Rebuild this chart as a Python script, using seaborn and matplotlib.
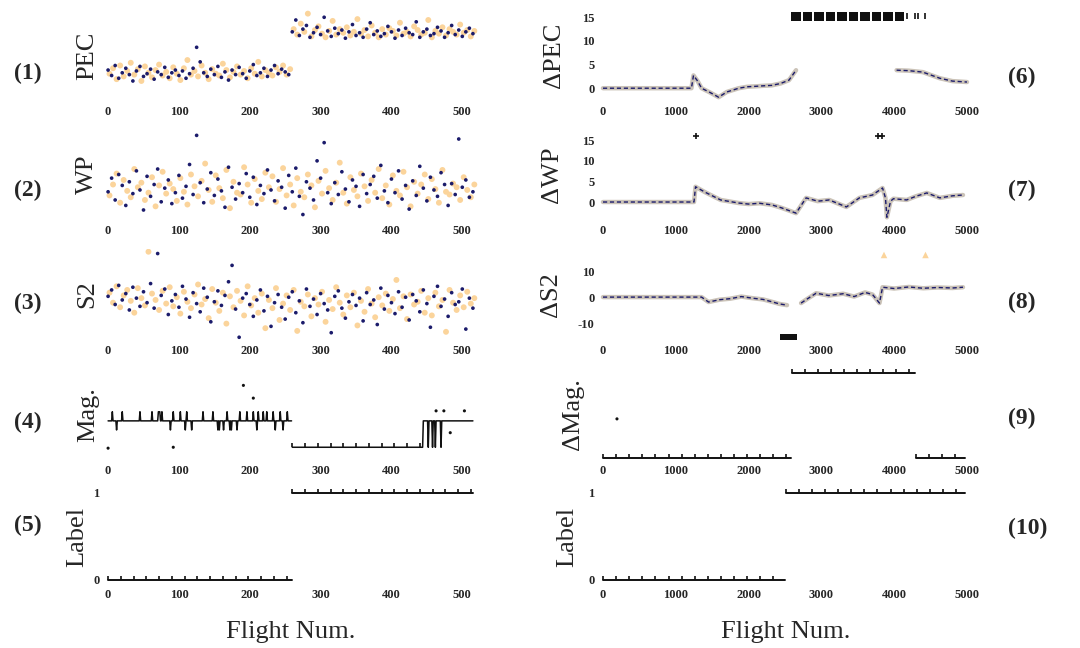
import numpy as np
import pandas as pd
import seaborn as sns
import matplotlib.pyplot as plt

sns.set_theme(style="white")
plt.rcParams['font.family'] = ['Liberation Serif', 'DejaVu Serif']

NAVY = '#1b1b6b'
PEACH = '#fbd49b'
GRAY = '#cbc3b8'
BLACK = '#111111'

# ---------------- data: left column (flight index 0..515) ----------------
left_ticks = [0, 100, 200, 300, 400, 500]
right_ticks = [0, 1000, 2000, 3000, 4000, 5000]

# (1) PEC, sampled every 5 flights
pec_navy = [3.4, 2.8, 3.9, 2.5, 3.1, 3.6, 2.9, 2.2, 3.3, 3.8, 2.7, 3.0, 3.5, 2.4, 3.2, 2.9, 3.7, 2.6, 3.1, 3.4,
            2.8, 3.3, 2.5, 3.0, 3.6, 5.9, 4.3, 3.1, 2.7, 3.5, 2.9, 3.8, 2.6, 3.2, 2.3, 3.4, 2.9, 3.7, 3.0, 2.5,
            3.3, 4.0, 2.8, 3.1, 3.6, 2.7, 3.4, 3.9, 3.0, 3.5, 3.2, 2.9,
            7.6, 8.9, 7.2, 7.9, 8.3, 7.0, 7.5, 8.1, 7.3, 9.2, 7.7, 7.1, 8.0, 7.4, 7.8, 6.9, 7.6, 8.4, 7.2, 7.5,
            7.0, 7.9, 8.6, 7.3, 7.7, 7.1, 7.4, 8.2, 7.6, 6.9, 7.8, 7.2, 8.0, 7.5, 7.3, 8.7, 7.0, 7.6, 7.9, 7.2,
            7.4, 8.1, 7.7, 7.0, 7.5, 8.3, 7.3, 7.8, 7.1, 7.6, 8.0, 7.4]
pec_peach = [3.0, 3.6, 2.4, 3.9, 2.7, 3.3, 4.2, 2.9, 3.5, 2.2, 3.8, 3.1, 2.6, 3.4, 4.0, 2.8, 3.2, 2.5, 3.7, 3.0,
             2.3, 3.6, 4.5, 2.9, 3.3, 2.7, 3.9, 3.1, 2.4, 3.5, 3.0, 2.8, 4.1, 3.4, 2.6, 3.2, 3.8, 2.9, 3.3, 2.5,
             3.6, 3.0, 4.3, 2.7, 3.4, 3.1, 2.8, 3.7, 3.2, 3.9, 2.9, 3.5,
             7.9, 7.3, 8.5, 7.6, 9.6, 7.1, 7.8, 8.2, 7.4, 7.0, 7.7, 8.8, 7.3, 7.9, 7.5, 8.1, 7.2, 7.6, 9.0, 7.4,
             7.8, 7.1, 8.3, 7.5, 7.0, 7.9, 7.3, 8.0, 7.7, 7.2, 8.6, 7.4, 7.6, 7.1, 8.2, 7.8, 7.3, 7.5, 8.9, 7.0,
             7.7, 7.4, 8.1, 7.2, 7.9, 7.6, 7.3, 8.4, 7.5, 7.8, 7.1, 7.7]

# (2) WP
wp_navy = [3.1, 4.6, 2.2, 5.0, 3.8, 1.6, 4.2, 2.9, 5.4, 3.3, 1.1, 4.8, 2.6, 3.9, 5.6, 2.0, 3.5, 4.4, 1.8, 3.0,
           4.9, 2.4, 3.7, 6.1, 2.8, 9.3, 4.1, 1.9, 3.4, 5.2, 2.7, 4.5, 3.2, 1.4, 5.8, 3.6, 2.3, 4.0, 3.0, 5.1,
           2.5, 4.7, 1.7, 3.8, 2.9, 5.5, 3.3, 2.1, 4.3, 3.6, 1.3, 4.9, 3.1, 5.7, 2.6, 0.6, 4.2, 3.5, 2.2, 6.5,
           4.6, 8.5, 3.0, 1.8, 4.1, 2.8, 5.3, 3.4, 2.0, 4.4, 3.7, 1.5, 5.0, 2.9, 3.9, 4.8, 2.4, 6.0, 3.2, 1.9,
           4.5, 3.0, 5.4, 2.3, 3.8, 1.2, 4.3, 2.7, 5.9, 3.5, 2.1, 4.7, 3.3, 2.6, 5.2, 3.9, 1.6, 4.0, 2.8, 8.9,
           3.6, 4.4, 2.5, 3.1]
wp_peach = [2.7, 3.9, 5.1, 1.9, 4.4, 3.2, 2.5, 5.6, 3.6, 4.1, 2.2, 3.0, 4.7, 1.5, 3.8, 5.3, 2.9, 4.0, 3.4, 2.1,
            4.6, 3.1, 1.7, 5.0, 3.7, 2.6, 4.3, 6.2, 3.3, 2.0, 4.9, 3.5, 2.4, 5.5, 1.3, 4.2, 3.0, 2.8, 5.8, 3.9,
            1.9, 4.5, 3.2, 2.3, 5.2, 3.6, 4.8, 2.0, 3.4, 5.7, 2.7, 3.9, 1.6, 4.6, 3.1, 2.5, 5.0, 3.8, 1.4, 4.3,
            2.9, 5.4, 3.5, 2.2, 4.1, 6.3, 3.0, 1.8, 4.7, 3.3, 2.6, 5.1, 3.7, 2.1, 4.4, 3.0, 5.6, 2.4, 3.8, 1.7,
            4.9, 3.2, 2.7, 5.3, 3.6, 1.5, 4.2, 2.9, 3.9, 5.0, 2.3, 4.5, 3.4, 1.9, 5.5, 3.1, 2.8, 4.0, 3.6, 2.2,
            4.7, 3.3, 2.5, 3.9]

# (3) S2
s2_navy = [4.8, 5.5, 3.9, 6.0, 4.4, 5.1, 3.3, 5.8, 4.6, 3.7, 5.3, 4.1, 6.2, 3.5, 9.5, 4.9, 5.6, 2.8, 4.3, 5.0,
           3.6, 5.9, 4.5, 2.5, 5.2, 4.0, 3.1, 5.7, 4.7, 2.0, 4.2, 5.4, 3.8, 4.9, 6.4, 8.2, 3.4, 0.3, 4.6, 5.1,
           3.9, 2.6, 4.4, 5.5, 3.2, 4.8, 1.5, 4.1, 5.0, 3.6, 2.3, 4.7, 5.3, 3.0, 4.3, 1.9, 5.6, 3.7, 4.5, 2.8,
           5.1, 4.0, 3.3, 0.8, 4.8, 5.4, 3.5, 2.4, 4.2, 5.0, 3.8, 4.6, 2.1, 5.2, 3.9, 4.4, 1.7, 5.7, 3.4, 4.9,
           4.1, 2.9, 5.3, 3.6, 4.7, 2.2, 5.0, 4.3, 3.1, 5.5, 4.0, 1.4, 4.8, 5.9, 3.7, 4.5, 2.6, 5.2, 3.9, 4.2,
           5.6, 1.2, 4.6, 3.5]
s2_peach = [5.2, 4.1, 5.9, 3.6, 4.9, 5.5, 4.3, 3.0, 5.7, 4.6, 3.8, 9.7, 5.1, 4.4, 3.3, 5.4, 4.0, 5.8, 3.7, 4.7,
            2.9, 5.3, 4.2, 3.5, 5.0, 6.1, 3.9, 4.5, 2.4, 5.6, 4.1, 3.2, 5.2, 1.8, 4.8, 3.6, 5.4, 4.3, 2.7, 5.9,
            3.8, 4.6, 3.0, 5.1, 1.3, 4.4, 3.5, 5.7, 2.2, 4.0, 4.9, 3.3, 5.5, 1.0, 4.2, 3.7, 5.0, 2.6, 4.6, 3.9,
            5.3, 2.0, 4.4, 3.4, 5.8, 4.1, 2.8, 4.9, 3.6, 5.2, 1.6, 4.3, 3.1, 5.6, 4.0, 2.5, 4.7, 3.8, 5.1, 3.2,
            4.5, 6.6, 3.5, 4.8, 2.3, 5.0, 3.9, 4.2, 5.4, 3.0, 4.6, 2.7, 5.2, 3.7, 4.4, 0.9, 5.5, 4.1, 3.3, 4.9,
            3.6, 5.3, 4.0, 4.6]

# (4) Mag.: base levels between change points, plus one-flight spikes
n_left = 516
mag_change_x = [0, 260, 445]
mag_change_y = [4.3, 1.4, 4.3]
mag_break = 260
mag_up_x = [6, 20, 45, 62, 71, 72, 73, 76, 92, 102, 111, 134, 148, 168, 186, 196, 205, 212, 219, 224, 233, 243, 253]
mag_up_y = 5.3
mag_down_x = [12, 88, 109, 118, 155, 157, 163, 172, 174, 182, 210, 236, 247]
mag_down_y = 3.3
mag_drop_x = [452, 458, 462, 470]
mag_dot_x = [0, 92, 191, 205, 463, 474, 503, 483]
mag_dot_y = [1.3, 1.4, 8.2, 6.8, 5.4, 5.4, 5.4, 3.0]

# (5) Label
label_left_switch = 260

# ---------------- data: right column ----------------
# (6) dPEC
dpec_x = [0, 300, 600, 900, 1215, 1243, 1300, 1354, 1470, 1588, 1700, 1865, 1980, 2099, 2200, 2320, 2440, 2555, 2652,
          4033, 4200, 4392, 4500, 4627, 4800, 5000]
dpec_y = [0, 0, 0, 0, 0, 2.7, 1.5, 0.0, -0.9, -1.9, -0.8, 0.0, 0.3, 0.4, 0.5, 0.6, 1.0, 1.7, 3.8,
          3.8, 3.7, 3.4, 2.8, 2.1, 1.5, 1.3]
dpec_seg = [0] * 19 + [1] * 7
dpec_flag_x = [2652, 2810, 2968, 3126, 3284, 3442, 3600, 3758, 3916, 4075]
dpec_tick_x = [4180, 4290, 4330, 4420]
dpec_flag_y = 15.2

# (7) dWP
dwp_x = [0, 400, 800, 1200, 1250, 1271, 1400, 1616, 1865, 2000, 2150, 2320, 2450, 2652, 2790, 2950, 3108, 3343,
         3522, 3702, 3840, 3880, 3900, 3950, 3990, 4171, 4300, 4448, 4627, 4800, 4945]
dwp_y = [0, 0, 0, 0, 0, 3.7, 2.4, 0.5, -0.25, -0.5, -0.3, -0.7, -1.4, -2.7, 1.0, 0.2, 0.5, -1.2,
         1.0, 1.7, 3.4, 1.0, -3.7, 0.2, 0.8, 0.5, 1.4, 2.2, 1.0, 1.5, 1.7]
dwp_flag_x = [1271, 3780, 3830]
dwp_flag_y = 16.0

# (8) dS2
ds2_x = [0, 400, 800, 1200, 1354, 1450, 1600, 1750, 1900, 2050, 2200, 2320, 2420, 2528,
         2721, 2800, 2928, 3100, 3300, 3450, 3600, 3702, 3798, 3840, 4000, 4200, 4400, 4600, 4800, 4945]
ds2_y = [0, 0, 0, 0, 0, -1.9, -1.0, -0.6, 0.2, -0.4, -0.9, -1.8, -2.6, -3.1,
         -2.3, -0.8, 1.5, 0.6, 1.3, 0.2, 1.8, 1.0, -2.3, 3.8, 3.3, 3.9, 3.4, 3.7, 3.5, 3.8]
ds2_seg = [0] * 14 + [1] * 16
ds2_low_x = [2470, 2560, 2620]
ds2_low_y = -15.4
ds2_high_x = [3860, 4430]
ds2_high_y = 16.2

# (9) dMag. and (10) Label
right_end = 4970
dmag_change_x = [0, 2583, 4300]
dmag_change_y = [0, 1, 0]
dmag_dot_x = [192]
dmag_dot_y = [0.46]
label_right_switch = 2510

# ---------------- build series ----------------
flights = np.arange(n_left)
mag = np.array(mag_change_y)[np.searchsorted(mag_change_x, flights, side='right') - 1]
mag[mag_up_x] = mag_up_y
mag[mag_down_x] = mag_down_y
mag[mag_drop_x] = mag_change_y[1]
mag_df = pd.DataFrame({'x': flights, 'y': mag, 'seg': (flights >= mag_break).astype(int)})

lab_left = pd.DataFrame({'x': flights, 'y': (flights >= label_left_switch).astype(int)})
lab_left['seg'] = lab_left['y']

rx = np.arange(0, right_end + 1, 10)
lab_right = pd.DataFrame({'x': rx, 'y': (rx >= label_right_switch).astype(int)})
lab_right['seg'] = lab_right['y']
dmag_idx = np.searchsorted(dmag_change_x, rx, side='right') - 1
dmag_df = pd.DataFrame({'x': rx, 'y': np.array(dmag_change_y)[dmag_idx], 'seg': dmag_idx})

# ---------------- figure ----------------
fig = plt.figure(figsize=(10.8, 6.48), dpi=100)


def px_box(x0, x1, y0, y1):
    return [x0 / 1080, 1 - y1 / 648, (x1 - x0) / 1080, (y1 - y0) / 648]


rows = [(10, 101), (129, 220), (249, 340), (369, 460), (488, 586)]
axL = [fig.add_axes(px_box(101, 480, *r)) for r in rows]
axR = [fig.add_axes(px_box(596, 975, *r)) for r in rows]


def scatter_pair(ax, navy, peach):
    sns.scatterplot(x=np.arange(len(peach)) * 5 + 2, y=peach, color=PEACH, s=18,
                    edgecolor='none', ax=ax)
    sns.scatterplot(x=np.arange(len(navy)) * 5, y=navy, color=NAVY, s=7,
                    edgecolor='none', ax=ax)


def smooth_line(ax, x, y, seg):
    df = pd.DataFrame({'x': x, 'y': y, 'seg': seg})
    sns.lineplot(data=df, x='x', y='y', units='seg', estimator=None, sort=False,
                 color=GRAY, lw=3.2, ax=ax, legend=False)
    sns.lineplot(data=df, x='x', y='y', units='seg', estimator=None, sort=False,
                 color=NAVY, lw=1.0, linestyle=(0, (3, 2)), ax=ax, legend=False)


def step_line(ax, df, every):
    sns.lineplot(data=df, x='x', y='y', units='seg', estimator=None, color=BLACK, lw=1.4,
                 marker=2, markevery=every, markersize=3, markeredgecolor=BLACK,
                 markeredgewidth=1.2, ax=ax, legend=False, clip_on=False)


# left column
scatter_pair(axL[0], pec_navy, pec_peach)
scatter_pair(axL[1], wp_navy, wp_peach)
scatter_pair(axL[2], s2_navy, s2_peach)

sns.lineplot(data=mag_df, x='x', y='y', units='seg', estimator=None, color=BLACK, lw=1.1,
             ax=axL[3], legend=False)
sns.lineplot(data=mag_df[(mag_df.x >= mag_change_x[1]) & (mag_df.x < mag_change_x[2])], x='x', y='y',
             estimator=None, linestyle='', marker=2, markevery=18, markersize=3,
             markeredgecolor=BLACK, markeredgewidth=1.2, ax=axL[3], legend=False)
sns.scatterplot(x=mag_dot_x, y=mag_dot_y, color=BLACK, s=5, edgecolor='none', ax=axL[3])

step_line(axL[4], lab_left, 18)

# right column
smooth_line(axR[0], dpec_x, dpec_y, dpec_seg)
sns.scatterplot(x=dpec_flag_x, y=[dpec_flag_y] * len(dpec_flag_x), marker='s', color=BLACK,
                s=45, edgecolor='none', ax=axR[0])
sns.scatterplot(x=dpec_tick_x, y=[dpec_flag_y] * len(dpec_tick_x), marker='|', color=BLACK,
                s=18, linewidth=1.2, ax=axR[0])

smooth_line(axR[1], dwp_x, dwp_y, [0] * len(dwp_x))
sns.scatterplot(x=dwp_flag_x, y=[dwp_flag_y] * len(dwp_flag_x), marker='+', color=BLACK,
                s=25, linewidth=1.2, ax=axR[1])

smooth_line(axR[2], ds2_x, ds2_y, ds2_seg)
sns.scatterplot(x=ds2_low_x, y=[ds2_low_y] * len(ds2_low_x), marker='s', color=BLACK,
                s=22, edgecolor='none', ax=axR[2])
sns.scatterplot(x=ds2_high_x, y=[ds2_high_y] * len(ds2_high_x), marker='^', color=PEACH,
                s=22, edgecolor='none', ax=axR[2])

step_line(axR[3], dmag_df, 18)
sns.scatterplot(x=dmag_dot_x, y=dmag_dot_y, color=BLACK, s=5, edgecolor='none', ax=axR[3])

step_line(axR[4], lab_right, 18)

# ---------------- axes styling ----------------
left_ylabels = ['PEC', 'WP', 'S2', 'Mag.', 'Label']
right_ylabels = ['ΔPEC', 'ΔWP', 'ΔS2', 'ΔMag.', 'Label']
left_ylims = [(0, 10), (0, 10), (0, 10), (0, 10), (-0.069, 1.057)]
right_ylims = [(-2.7, 16.5), (-4.36, 17.7), (-16.5, 18.5), (-0.024, 1.047), (-0.069, 1.057)]
left_yticks = [[], [], [], [], [0, 1]]
right_yticks = [[0, 5, 10, 15], [0, 5, 10, 15], [-10, 0, 10], [], [0, 1]]
left_label_x = [-0.037, -0.037, -0.037, -0.033, -0.064]
right_label_x = [-0.11, -0.115, -0.12, -0.06, -0.075]
tick_font = dict(fontsize=9, fontweight='bold')

for i, ax in enumerate(axL):
    ax.set_xlim(-10, 525)
    ax.set_ylim(*left_ylims[i])
    ax.set_xticks(left_ticks, labels=[str(t) for t in left_ticks], **tick_font)
    ax.set_yticks(left_yticks[i], labels=[str(t) for t in left_yticks[i]], **tick_font)
    ax.set_xlabel('')
    ax.set_ylabel(left_ylabels[i], fontsize=19, va='center')
    ax.yaxis.set_label_coords(left_label_x[i], 0.5)

for i, ax in enumerate(axR):
    ax.set_xlim(-96, 5110)
    ax.set_ylim(*right_ylims[i])
    ax.set_xticks(right_ticks, labels=[str(t) for t in right_ticks], **tick_font)
    ax.set_yticks(right_yticks[i], labels=[str(t) for t in right_yticks[i]], **tick_font)
    ax.set_xlabel('')
    ax.set_ylabel(right_ylabels[i], fontsize=19, va='center')
    ax.yaxis.set_label_coords(right_label_x[i], 0.5)

for ax in axL + axR:
    ax.tick_params(axis='x', length=0, pad=3.5)
    ax.tick_params(axis='y', length=0, pad=1)
    sns.despine(ax=ax, left=True, bottom=True)
    ax.patch.set_alpha(0)

for ax in (axL[4], axR[4]):
    ax.tick_params(axis='x', pad=2)
    ax.set_xlabel('Flight Num.', fontsize=19, va='center')
    ax.xaxis.set_label_coords(0.5, -0.47)

# panel numbers
left_nums_y = [73, 190, 303, 422, 525]
right_nums_y = [77, 190, 302, 418, 528]
for k, y in enumerate(left_nums_y):
    fig.text(28 / 1080, 1 - y / 648, f'({k + 1})', fontsize=17, fontweight='bold',
             ha='center', va='center')
for k, y in enumerate(right_nums_y):
    fig.text(1008 / 1080, 1 - y / 648, f'({k + 6})', fontsize=17, fontweight='bold',
             ha='left', va='center')

fig.savefig('out.png', dpi=100)
